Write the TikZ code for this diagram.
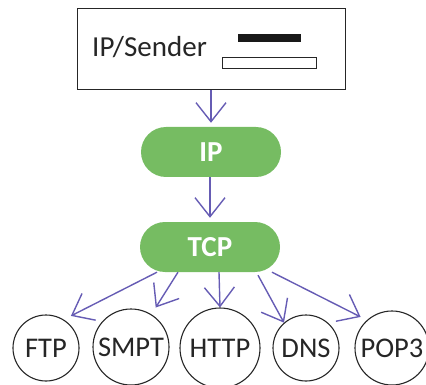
\documentclass[tikz,border=0pt]{standalone}
\usepackage{fontspec}
\setmainfont{Carlito}
\usetikzlibrary{arrows.meta,calc}
\definecolor{pgreen}{RGB}{118,188,98}
\definecolor{parrow}{RGB}{102,92,180}
\definecolor{ptext}{RGB}{38,38,38}
\begin{document}
\begin{tikzpicture}[x=1pt,y=-1pt,
  pill/.style={fill=pgreen,draw=none,rounded corners=25pt,minimum width=140pt,minimum height=50pt,
    text=white,font=\fontsize{29}{31}\selectfont\bfseries,inner sep=0pt},
  proto/.style={circle,draw=ptext,line width=1.1pt,inner sep=0pt,text=ptext,
    font=\fontsize{28.5}{30}\selectfont},
  conn/.style={draw=parrow,line width=1.4pt,-{Straight Barb[length=19pt,width=30pt,line width=1.4pt]}},
  frame/.style={draw=ptext,line width=1.8pt,fill=white,inner sep=0pt}
]
\useasboundingbox (0,0) rectangle (426,385);
% sender box
\node[frame,minimum width=268pt,minimum height=81pt] (sender) at (211.5,49) {};
\node[anchor=base west,text=ptext,font=\fontsize{29}{31}\selectfont,inner sep=0pt] (slabel) at (92,57) {IP/Sender};
\node[fill=black!90,draw=none,minimum width=63pt,minimum height=8pt,inner sep=0pt] (bar1) at (269.5,38) {};
\node[draw=ptext,line width=1.3pt,fill=white,minimum width=94pt,minimum height=11pt,inner sep=0pt] (bar2) at (269.5,63) {};
% pills
\node[pill] (ip) at (211,152) {IP};
\node[pill] (tcp) at (210,247) {TCP};
% circles
\node[proto,minimum size=66pt] (ftp) at (46,348) {FTP};
\node[proto,minimum size=76pt] (smpt) at (131,347) {SMPT};
\node[proto,minimum size=80pt] (http) at (220,348) {HTTP};
\node[proto,minimum size=66pt] (dns) at (306,348) {DNS};
\node[proto,minimum size=74pt] (pop) at (392,348) {POP3};
% connectors
\draw[conn,shorten >=4pt] (sender.south -| ip.north) -- (ip.north);
\draw[conn,shorten >=4pt] (ip.south -| tcp.north) -- (tcp.north);
\draw[conn,shorten >=8pt] ($(tcp.south)+(-53,0)$) -- (ftp.58);
\draw[conn,shorten >=8pt] ($(tcp.south)+(-32,0)$) -- (smpt.58);
\draw[conn] ($(tcp.south)+(9,0)$) -- (http.north);
\draw[conn] ($(tcp.south)+(48,3)$) -- (dns.131);
\draw[conn,shorten >=7pt] ($(tcp.south)+(62,0)$) -- (pop.132);
\end{tikzpicture}
\end{document}
